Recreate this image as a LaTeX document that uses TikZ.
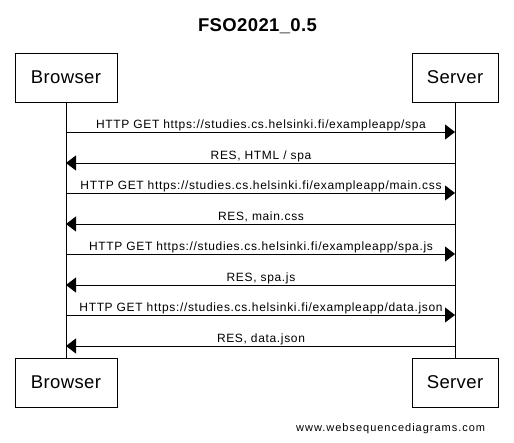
\documentclass[tikz,border=0pt]{standalone}
\usepackage{fontspec}
\setmainfont{Liberation Sans}
\usetikzlibrary{arrows.meta}
\begin{document}
\begin{tikzpicture}[x=1pt,y=-1pt,
  actor/.style={draw, line width=1pt, minimum height=49pt, inner sep=0pt,
    font=\fontsize{18.5}{20}\selectfont\addfontfeature{LetterSpace=2}},
  msg/.style={line width=1pt, -{Triangle[length=10pt,width=15pt]}},
  lbl/.style={anchor=base, inner sep=0pt,
    font=\fontsize{12}{14}\selectfont\addfontfeature{LetterSpace=5.5}},
  life/.style={line width=1pt},
  ttl/.style={anchor=base, inner sep=0pt, font=\fontsize{18.5}{20}\selectfont\bfseries\addfontfeature{LetterSpace=2}},
  foot/.style={anchor=base west, inner sep=0pt, font=\fontsize{11}{13}\selectfont\addfontfeature{LetterSpace=9}}]
\useasboundingbox (0,0) rectangle (514,442);
\node[ttl] (title) at (257.5,31) {FSO2021\_0.5};
\node[actor, minimum width=102pt] (b1) at (66,77.5) {Browser};
\node[actor, minimum width=86pt] (s1) at (455,77.5) {Server};
\node[actor, minimum width=102pt] (b2) at (66,382.5) {Browser};
\node[actor, minimum width=86pt] (s2) at (455,382.5) {Server};
\draw[life] (b1) -- (b2);
\draw[life] (s1) -- (s2);
\foreach \i/\y in {1/132,2/163,3/193,4/224,5/254,6/285,7/315,8/346}{
  \coordinate (y\i) at (0,\y);
}
\draw[msg] (b1 |- y1) -- (s1 |- y1);
\draw[msg] (s1 |- y2) -- (b1 |- y2);
\draw[msg] (b1 |- y3) -- (s1 |- y3);
\draw[msg] (s1 |- y4) -- (b1 |- y4);
\draw[msg] (b1 |- y5) -- (s1 |- y5);
\draw[msg] (s1 |- y6) -- (b1 |- y6);
\draw[msg] (b1 |- y7) -- (s1 |- y7);
\draw[msg] (s1 |- y8) -- (b1 |- y8);
\node[lbl] (l1) at (261,128.5) {HTTP GET https://studies.cs.helsinki.fi/exampleapp/spa};
\node[lbl] (l2) at (261,159.5) {RES, HTML / spa};
\node[lbl] (l3) at (261,189.5) {HTTP GET https://studies.cs.helsinki.fi/exampleapp/main.css};
\node[lbl] (l4) at (261,220.5) {RES, main.css};
\node[lbl] (l5) at (261,250.5) {HTTP GET https://studies.cs.helsinki.fi/exampleapp/spa.js};
\node[lbl] (l6) at (261,281.5) {RES, spa.js};
\node[lbl] (l7) at (261,311.5) {HTTP GET https://studies.cs.helsinki.fi/exampleapp/data.json};
\node[lbl] (l8) at (261,342.5) {RES, data.json};
\node[foot] (ft) at (296,431) {www.websequencediagrams.com};
\end{tikzpicture}
\end{document}
